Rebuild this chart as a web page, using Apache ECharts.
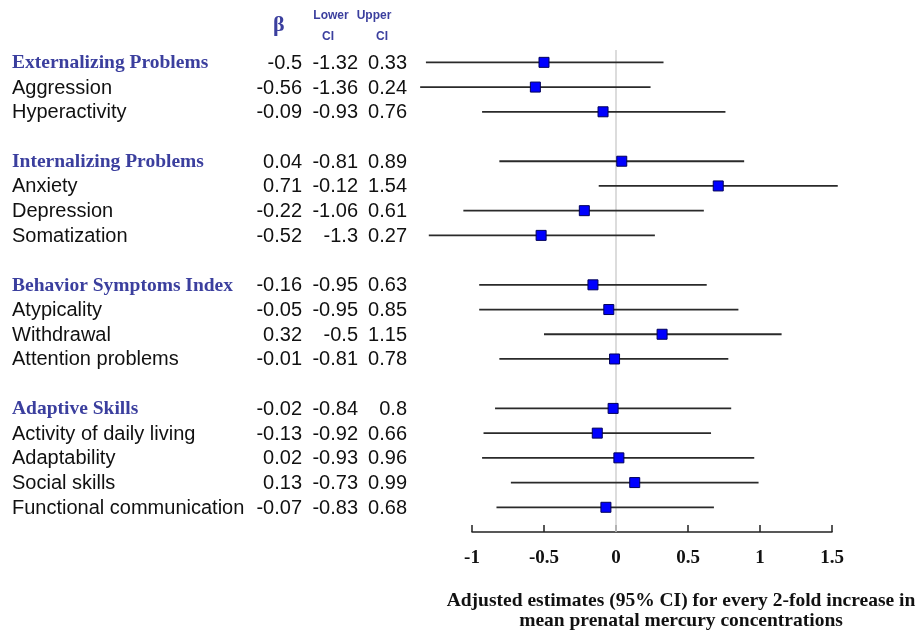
<!DOCTYPE html>
<html>
<head>
<meta charset="utf-8">
<script src="https://cdn.jsdelivr.net/npm/echarts@6/dist/echarts.min.js"></script>
<style>html,body{margin:0;padding:0;background:#fff;}#chart{width:922px;height:631px;}</style>
</head>
<body>
<div id="chart"></div>
<script>
var labels = ["Externalizing Problems","Aggression","Hyperactivity","","Internalizing Problems","Anxiety","Depression","Somatization","","Behavior Symptoms Index","Atypicality","Withdrawal","Attention problems","","Adaptive Skills","Activity of daily living","Adaptability","Social skills","Functional communication"];
var headingRows = [0, 4, 9, 14];
var beta  = [-0.5,-0.56,-0.09,null,0.04,0.71,-0.22,-0.52,null,-0.16,-0.05,0.32,-0.01,null,-0.02,-0.13,0.02,0.13,-0.07];
var lower = [-1.32,-1.36,-0.93,null,-0.81,-0.12,-1.06,-1.3,null,-0.95,-0.95,-0.5,-0.81,null,-0.84,-0.92,-0.93,-0.73,-0.83];
var upper = [0.33,0.24,0.76,null,0.89,1.54,0.61,0.27,null,0.63,0.85,1.15,0.78,null,0.8,0.66,0.96,0.99,0.68];
var xTicks = [-1, -0.5, 0, 0.5, 1, 1.5];
var axisTitle = "Adjusted estimates (95% CI) for every 2-fold increase in\nmean prenatal mercury concentrations";

var chart = echarts.init(document.getElementById('chart'), null, {renderer: 'canvas'});

var ciData = [];
var textData = [];
for (var i = 0; i < labels.length; i++) {
  textData.push([0, i]);
  if (beta[i] !== null) ciData.push([beta[i], i, lower[i], upper[i]]);
}

var blue = '#3b3f9e';
var sansFont = '"Liberation Sans", Arial, sans-serif';
var serifFont = '"Liberation Serif", "Times New Roman", serif';

var option = {
  animation: false,
  backgroundColor: '#ffffff',
  grid: {left: 472, right: 90, top: 50, bottom: 99},
  xAxis: {
    type: 'value', position: 'bottom', min: xTicks[0], max: xTicks[xTicks.length - 1], interval: 0.5,
    axisLine: {show: true, onZero: false, lineStyle: {color: '#222', width: 1.5}},
    axisTick: {show: true, inside: true, length: 7, lineStyle: {color: '#222', width: 1.5}},
    axisLabel: {color: '#111', fontFamily: serifFont, fontWeight: 'bold', fontSize: 19, margin: 17,
      formatter: function (v) { return String(v); }},
    splitLine: {show: false}
  },
  yAxis: {
    type: 'value', inverse: true, min: -0.5, max: 19,
    show: false, splitLine: {show: false}
  },
  graphic: [
    {type: 'text', left: 273, top: 14, style: {text: 'β', fill: blue, font: 'bold 22px ' + serifFont}},
    {type: 'text', x: 331, y: 16, style: {text: 'Lower', fill: blue, font: 'bold 12px ' + sansFont, align: 'center', verticalAlign: 'middle'}},
    {type: 'text', x: 328, y: 37, style: {text: 'CI', fill: blue, font: 'bold 12px ' + sansFont, align: 'center', verticalAlign: 'middle'}},
    {type: 'text', x: 374, y: 16, style: {text: 'Upper', fill: blue, font: 'bold 12px ' + sansFont, align: 'center', verticalAlign: 'middle'}},
    {type: 'text', x: 382, y: 37, style: {text: 'CI', fill: blue, font: 'bold 12px ' + sansFont, align: 'center', verticalAlign: 'middle'}},
    {type: 'text', x: 681, y: 611, style: {text: axisTitle, fill: '#111', font: 'bold 19.5px ' + serifFont, align: 'center', verticalAlign: 'middle', lineHeight: 20}}
  ],
  series: [
    {
      type: 'custom',
      coordinateSystem: 'cartesian2d',
      clip: false,
      data: ciData,
      encode: {x: 0, y: 1},
      renderItem: function (params, api) {
        var row = api.value(1);
        var pL = api.coord([api.value(2), row]);
        var pU = api.coord([api.value(3), row]);
        var pB = api.coord([api.value(0), row]);
        var s = 10;
        return {
          type: 'group',
          children: [
            {type: 'line', shape: {x1: pL[0], y1: pL[1], x2: pU[0], y2: pU[1]}, style: {stroke: '#2a2a2a', lineWidth: 1.8}},
            {type: 'rect', shape: {x: pB[0] - s / 2, y: pB[1] - s / 2, width: s, height: s}, style: {fill: '#0000ff', stroke: '#00005a', lineWidth: 1}}
          ]
        };
      },
      markLine: {
        silent: true, symbol: 'none', z: 1,
        label: {show: false},
        lineStyle: {color: '#d0d0d0', width: 1.5, type: 'solid'},
        data: [{xAxis: 0}]
      },
      z: 3
    },
    {
      type: 'custom',
      coordinateSystem: 'cartesian2d',
      clip: false,
      data: textData,
      encode: {x: 0, y: 1},
      renderItem: function (params, api) {
        var row = api.value(1);
        var y = api.coord([0, row])[1] + 1;
        var isHead = headingRows.indexOf(row) >= 0;
        var children = [];
        if (labels[row]) {
          children.push({type: 'text', x: 12, y: y, style: {
            text: labels[row], fill: isHead ? blue : '#111',
            font: isHead ? ('bold 19.5px ' + serifFont) : ('20px ' + sansFont),
            align: 'left', verticalAlign: 'middle'}});
        }
        if (beta[row] !== null) {
          var cols = [[302, beta[row]], [358, lower[row]], [407, upper[row]]];
          cols.forEach(function (c) {
            children.push({type: 'text', x: c[0], y: y, style: {
              text: String(c[1]), fill: '#111', font: '20px ' + sansFont,
              align: 'right', verticalAlign: 'middle'}});
          });
        }
        return {type: 'group', children: children};
      },
      z: 4
    }
  ]
};
chart.setOption(option);
</script>
</body>
</html>
